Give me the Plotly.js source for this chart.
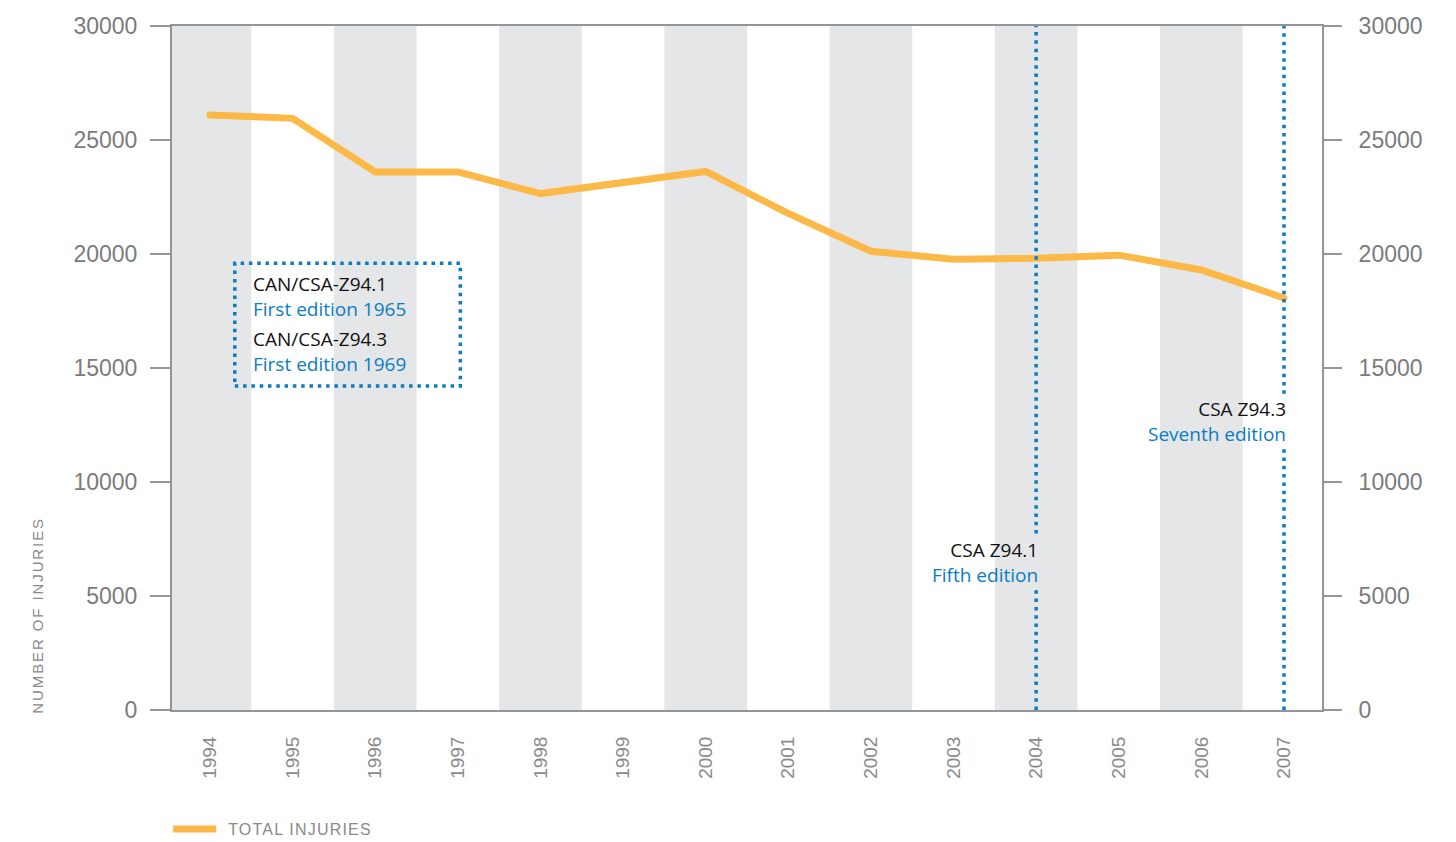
<!DOCTYPE html>
<html>
<head>
<meta charset="utf-8">
<script src="https://cdn.plot.ly/plotly-3.0.1.min.js"></script>
<style>
html,body{margin:0;padding:0;background:#fff;}
#chart{width:1456px;height:842px;}
.legendtext{letter-spacing:1.2px;}
.scatterlayer .js-line{stroke-linecap:round;}
</style>
</head>
<body>
<div id="chart"></div>
<script>
// ---- data ----
const years = [1994,1995,1996,1997,1998,1999,2000,2001,2002,2003,2004,2005,2006,2007];
const totalInjuries = [26100,25950,23600,23600,22650,23150,23620,21780,20120,19770,19810,19950,19300,18070];
const yTicks = [0,5000,10000,15000,20000,25000,30000];
const yTickText = ['0','5000','10000','15000','20000','25000','30000'];
const bandYears = [1994,1996,1998,2000,2002,2004,2006];
const editionYears = [2004, 2007];
const editionGapLow = [5330, 11450];
const editionGapHigh = [7740, 13870];
const editionStd = ['CSA Z94.1','CSA Z94.3'];
const editionName = ['Fifth edition','Seventh edition'];
const editionLabelY = [6470, 12640];
const boxStd = ['CAN/CSA-Z94.1','CAN/CSA-Z94.3'];
const boxEdition = ['First edition 1965','First edition 1969'];

const BLUE = '#0a7cc2';
const ORANGE = '#fdb948';
const AXIS = '#939598';
const BAND = '#e5e6e8';
const LBL = '#7b7b7b';
const DOTS = '3.5px,4.8px';

const shapes = [];
bandYears.forEach(y => shapes.push({type:'rect', xref:'x', yref:'paper', x0:y-0.5, x1:y+0.5, y0:0, y1:1,
  fillcolor:BAND, line:{width:0}, layer:'below'}));
editionYears.forEach((yr,i) => {
  shapes.push({type:'line', xref:'x', yref:'y', x0:yr, x1:yr, y0:0, y1:editionGapLow[i], line:{color:BLUE, width:3.5, dash:DOTS}});
  shapes.push({type:'line', xref:'x', yref:'y', x0:yr, x1:yr, y0:editionGapHigh[i], y1:30000, line:{color:BLUE, width:3.5, dash:DOTS}});
});
// info box
shapes.push({type:'rect', xref:'x', yref:'y', x0:1994.30, x1:1997.03, y0:14210, y1:19590,
  line:{color:BLUE, width:3.5, dash:DOTS}, fillcolor:'rgba(0,0,0,0)'});

const annFont = {family:'"Open Sans", "Noto Sans", sans-serif', size:19};
const annotations = [];
editionYears.forEach((yr,i) => annotations.push({xref:'x', yref:'y', x:yr+0.05, y:editionLabelY[i],
  xanchor:'right', yanchor:'middle', align:'right', showarrow:false, font:annFont,
  text:'<span style="color:#111">'+editionStd[i]+'</span><br><span style="color:'+BLUE+'">'+editionName[i]+'</span>'}));
boxStd.forEach((s,i) => annotations.push({xref:'x', yref:'y', x:1994.5, y:[18150,15740][i],
  xanchor:'left', yanchor:'middle', align:'left', showarrow:false, font:annFont,
  text:'<span style="color:#111">'+s+'</span><br><span style="color:'+BLUE+'">'+boxEdition[i]+'</span>'}));
annotations.push({xref:'paper', yref:'paper', x:-0.1165, y:0.138, textangle:-90, showarrow:false,
  xanchor:'center', yanchor:'middle', text:'NUMBER OF INJURIES',
  font:{family:'"Liberation Sans", Arial, sans-serif', size:15, color:'#8a8a8a'}});

const traces = [
  {x:years, y:totalInjuries, type:'scatter', mode:'lines', name:'TOTAL INJURIES',
   line:{color:ORANGE, width:7}, hoverinfo:'skip'},
  {x:years, y:totalInjuries, type:'scatter', mode:'lines', yaxis:'y2', showlegend:false,
   line:{color:'rgba(0,0,0,0)', width:0}, hoverinfo:'skip'}
];

const tickFont = {family:'"Liberation Sans", Arial, sans-serif', size:23, color:LBL};
const layout = {
  width:1456, height:842,
  margin:{l:172, r:134, t:26, b:132},
  paper_bgcolor:'#fff', plot_bgcolor:'#fff',
  showlegend:true,
  legend:{orientation:'h', xref:'container', yref:'container', x:0.1155, xanchor:'left', y:0.0154, yanchor:'middle',
    font:{family:'"Liberation Sans", Arial, sans-serif', size:16, color:'#8a8a8a'}, itemwidth:43},
  xaxis:{range:[1993.54, 2007.46], tickvals:years, ticktext:years.map(String), tickangle:-90,
    showgrid:false, zeroline:false, showline:true, mirror:true, linecolor:AXIS, linewidth:2,
    ticks:'', ticklabelstandoff:17, automargin:false,
    tickfont:{family:'"Liberation Sans", Arial, sans-serif', size:19, color:'#8a8a8a'}},
  yaxis:{range:[0,30000], tickvals:yTicks, ticktext:yTickText, showgrid:false, zeroline:false, showline:true,
    linecolor:AXIS, linewidth:2, ticks:'outside', ticklen:20, tickwidth:2, tickcolor:AXIS,
    tickfont:tickFont, ticklabelstandoff:8, automargin:false},
  yaxis2:{range:[0,30000], overlaying:'y', side:'right', tickvals:yTicks, ticktext:yTickText, showgrid:false, zeroline:false,
    showline:true, linecolor:AXIS, linewidth:2, ticks:'outside', ticklen:18, tickwidth:2, tickcolor:AXIS,
    tickfont:tickFont, ticklabelstandoff:12, automargin:false},
  shapes:shapes, annotations:annotations
};
Plotly.newPlot('chart', traces, layout, {displayModeBar:false, staticPlot:true}).then(gd => {
  const anns = gd.querySelectorAll('.annotation');
  const last = anns[anns.length-1];
  if (last) last.querySelectorAll('text').forEach(t => t.style.letterSpacing = '1.9px');
  gd.querySelectorAll('.legendtext').forEach(t => {
    const x = parseFloat(t.getAttribute('x')) || 0;
    t.setAttribute('x', x + 7);
  });
});
</script>
</body>
</html>
